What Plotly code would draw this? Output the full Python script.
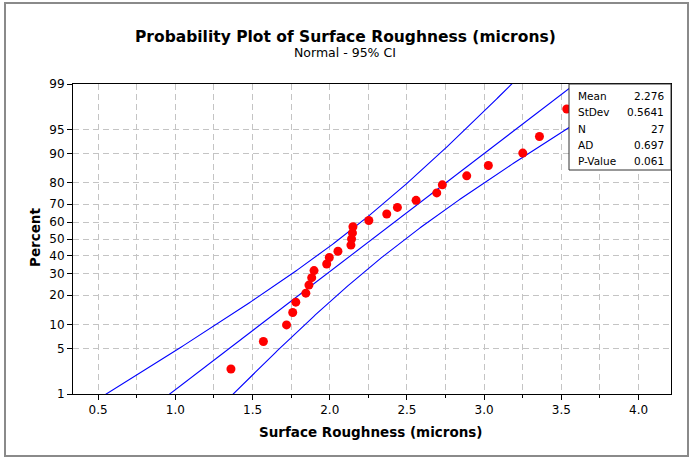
import plotly.graph_objects as go
from statistics import NormalDist
import math

# ---- data ----
roughness = [1.36, 1.57, 1.72, 1.76, 1.78, 1.845, 1.865, 1.883, 1.898, 1.98,
             1.997, 2.053, 2.137, 2.141, 2.147, 2.15, 2.253, 2.369, 2.438, 2.559,
             2.693, 2.729, 2.887, 3.027, 3.25, 3.358, 3.535]
stat_labels = ["Mean", "StDev", "N", "AD", "P-Value"]
stat_values = ["2.276", "0.5641", "27", "0.697", "0.061"]
mean_val = 2.276
sd_val = 0.5641
n_val = 27
pct_ticks = [1, 5, 10, 20, 30, 40, 50, 60, 70, 80, 90, 95, 99]

nd = NormalDist()
zf = lambda p: nd.inv_cdf(p / 100.0)

# median-rank plotting positions (probability scale)
xs = sorted(roughness)
pos = [(i + 1 - 0.3) / (len(xs) + 0.4) * 100 for i in range(len(xs))]
zpts = [zf(p) for p in pos]

# fitted line and 95% CI
zgrid = [-2.6 + k * 0.02 for k in range(261)]
fit = [mean_val + z * sd_val for z in zgrid]
half = [1.96 * sd_val * math.sqrt((1 + z * z / 2) / n_val) for z in zgrid]
lo = [f - h for f, h in zip(fit, half)]
hi = [f + h for f, h in zip(fit, half)]

W, H = 690, 459
L, R, T, B = 73, 671, 84, 394
pw, ph = R - L, B - T
px = lambda x: (x - L) / pw
py = lambda y: (B - y) / ph

FONT = "DejaVu Sans"
fig = go.Figure()
line_style = dict(color="#0000ff", width=1.1)
fig.add_trace(go.Scatter(x=lo, y=zgrid, mode="lines", line=line_style, hoverinfo="skip"))
fig.add_trace(go.Scatter(x=fit, y=zgrid, mode="lines", line=line_style, hoverinfo="skip"))
fig.add_trace(go.Scatter(x=hi, y=zgrid, mode="lines", line=line_style, hoverinfo="skip"))
fig.add_trace(go.Scatter(x=xs, y=zpts, mode="markers",
                         marker=dict(color="#ff0000", size=9, line=dict(width=0)),
                         cliponaxis=True))

zr = zf(99)
fig.update_layout(
    width=W, height=H, showlegend=False,
    margin=dict(l=L, r=W - R, t=T, b=H - B, pad=0),
    paper_bgcolor="white", plot_bgcolor="white",
    font=dict(family=FONT, size=12, color="#000000"),
    xaxis=dict(range=[0.337, 4.21], tickvals=[0.5, 1.0, 1.5, 2.0, 2.5, 3.0, 3.5, 4.0],
               ticktext=["0.5", "1.0", "1.5", "2.0", "2.5", "3.0", "3.5", "4.0"],
               ticks="outside", ticklen=5, tickcolor="#000", showline=True, mirror=True,
               linecolor="#000", linewidth=1, zeroline=False,
               showgrid=True, gridcolor="#c4c4c4", griddash="6px,4px", gridwidth=1,
               minor=dict(tickvals=[0.75, 1.25, 1.75, 2.25, 2.75, 3.25, 3.75],
                          ticks="outside", ticklen=3, tickcolor="#000",
                          showgrid=True, gridcolor="#c4c4c4", griddash="6px,4px")),
    yaxis=dict(range=[-zr, zr], tickvals=[zf(p) for p in pct_ticks],
               ticktext=[str(p) for p in pct_ticks],
               ticks="outside", ticklen=5, tickcolor="#000", showline=True, mirror=True,
               linecolor="#000", linewidth=1, zeroline=False,
               showgrid=True, gridcolor="#c4c4c4", griddash="6px,4px", gridwidth=1),
)

shapes = [
    dict(type="rect", xref="paper", yref="paper", x0=px(5), x1=px(688), y0=py(456), y1=py(3),
         line=dict(color="#8a8a8a", width=2), fillcolor="rgba(0,0,0,0)", layer="above"),
    dict(type="rect", xref="paper", yref="paper", x0=px(569), x1=1.0, y0=py(170), y1=1.0,
         line=dict(color="#333333", width=1), fillcolor="white", layer="above"),
]
fig.update_layout(shapes=shapes)

ann = [
    dict(text="<b>Probability Plot of Surface Roughness (microns)</b>", x=px(345), y=py(37),
         font=dict(size=15.5, family=FONT)),
    dict(text="Normal - 95% CI", x=px(345), y=py(53), font=dict(size=12.5, family=FONT)),
    dict(text="<b>Surface Roughness (microns)</b>", x=px(371), y=py(432),
         font=dict(size=13.5, family=FONT)),
    dict(text="<b>Percent</b>", x=px(35), y=py(238), textangle=-90,
         font=dict(size=13.5, family=FONT)),
]
rows_y = [95.7, 112.3, 128.7, 145, 161]
for lab, val, yy in zip(stat_labels, stat_values, rows_y):
    ann.append(dict(text=lab, x=px(576), y=py(yy), xanchor="left",
                    font=dict(size=10.5, family=FONT)))
    ann.append(dict(text=val, x=px(666), y=py(yy), xanchor="right",
                    font=dict(size=10.5, family=FONT)))
for a in ann:
    a.setdefault("xanchor", "center")
    a.update(xref="paper", yref="paper", yanchor="middle", showarrow=False)
fig.update_layout(annotations=ann)

fig.write_html("out.html")
